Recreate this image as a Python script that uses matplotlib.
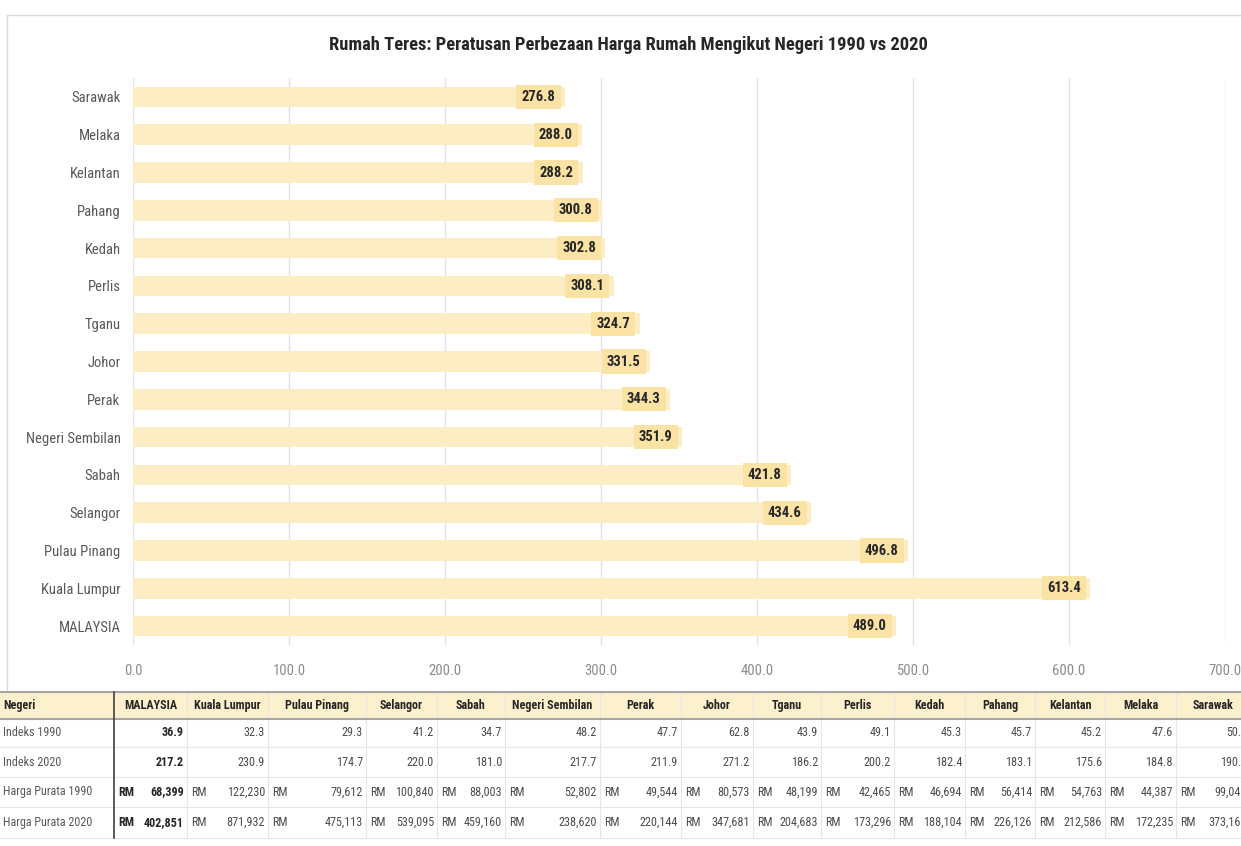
import matplotlib.pyplot as plt
from matplotlib import font_manager
from matplotlib.patches import Rectangle

installed = {f.name for f in font_manager.fontManager.ttflist}
fams = [n for n in ['Roboto Condensed', 'Liberation Sans Narrow', 'Roboto'] if n in installed]
plt.rcParams['font.family'] = fams + ['DejaVu Sans']

# data (bottom to top in the chart)
negeri = ['MALAYSIA', 'Kuala Lumpur', 'Pulau Pinang', 'Selangor', 'Sabah', 'Negeri Sembilan',
          'Perak', 'Johor', 'Tganu', 'Perlis', 'Kedah', 'Pahang', 'Kelantan', 'Melaka', 'Sarawak']
peratus = [489.0, 613.4, 496.8, 434.6, 421.8, 351.9, 344.3, 331.5, 324.7, 308.1, 302.8, 300.8,
           288.2, 288.0, 276.8]

indeks_1990 = [36.9, 32.3, 29.3, 41.2, 34.7, 48.2, 47.7, 62.8, 43.9, 49.1, 45.3, 45.7, 45.2, 47.6, 50.6]
indeks_2020 = [217.2, 230.9, 174.7, 220.0, 181.0, 217.7, 211.9, 271.2, 186.2, 200.2, 182.4, 183.1,
               175.6, 184.8, 190.4]
harga_1990 = [68399, 122230, 79612, 100840, 88003, 52802, 49544, 80573, 48199, 42465, 46694, 56414,
              54763, 44387, 99043]
harga_2020 = [402851, 871932, 475113, 539095, 459160, 238620, 220144, 347681, 204683, 173296, 188104,
              226126, 212586, 172235, 373163]

W, H = 1241, 846
fig = plt.figure(figsize=(W / 100, H / 100), dpi=100)

# chart frame + table drawn in pixel coordinates
bg = fig.add_axes([0, 0, 1, 1])
bg.set_xlim(0, W)
bg.set_ylim(H, 0)
bg.axis('off')
bg.add_patch(Rectangle((7, 15), 1260, 677, fill=False, ec='#D9D9D9', lw=1))

# main bar chart
x0, x1, y0, y1 = 133, 1225, 78, 645
ax = fig.add_axes([x0 / W, 1 - y1 / H, (x1 - x0) / W, (y1 - y0) / H])
ypos = list(range(len(negeri)))
ax.barh(ypos, peratus, height=0.55, color='#FDEDC4', zorder=2)
for y, v in zip(ypos, peratus):
    ax.text(v - 6, y, f'{v:.1f}', ha='right', va='center', fontsize=10.5, fontweight='bold',
            color='#262626', zorder=3,
            bbox=dict(boxstyle='square,pad=0.35', fc='#FBE3A6', ec='none'))
ax.set_xlim(0, 700)
ax.set_ylim(-0.5, len(negeri) - 0.5)
ax.set_yticks(ypos)
ax.set_yticklabels(negeri, fontsize=10.5, color='#595959')
ax.set_xticks(range(0, 701, 100))
ax.set_xticklabels([f'{t:.1f}' for t in range(0, 701, 100)], fontsize=10.5, color='#8C8C8C')
ax.tick_params(length=0, pad=14)
ax.tick_params(axis='y', pad=9)
ax.grid(axis='x', color='#E3E3E3', lw=1, zorder=0)
for s in ax.spines.values():
    s.set_visible(False)
ax.patch.set_alpha(0)
fig.text(628 / W, 1 - 45 / H, 'Rumah Teres: Peratusan Perbezaan Harga Rumah Mengikut Negeri 1990 vs 2020',
         ha='center', va='center', fontsize=13.3, fontweight='bold', color='#262626')

# table
col_edges = [0, 114, 187, 268, 366, 437, 505, 600, 681, 753, 821, 894, 965, 1035, 1105, 1176, 1250]
row_edges = [692, 719, 747, 777, 807, 838]
row_names = ['Indeks 1990', 'Indeks 2020', 'Harga Purata 1990', 'Harga Purata 2020']

bg.add_patch(Rectangle((0, row_edges[0]), W, row_edges[1] - row_edges[0], fc='#FDF0CC', ec='none'))
for xe in col_edges[2:-1]:
    bg.plot([xe, xe], [row_edges[0], row_edges[-1]], color='#E6E6E6', lw=0.8)
for ye in row_edges[2:]:
    bg.plot([0, W], [ye, ye], color='#E6E6E6', lw=0.8)
bg.plot([0, W], [row_edges[0], row_edges[0]], color='#A6A6A6', lw=1.5)
bg.plot([0, W], [row_edges[1], row_edges[1]], color='#A6A6A6', lw=1.5)
bg.plot([col_edges[1], col_edges[1]], [row_edges[0], row_edges[-1]], color='#404040', lw=1.2)

fs = 8.7
yc = [(row_edges[i] + row_edges[i + 1]) / 2 for i in range(len(row_edges) - 1)]
bg.text(3, yc[0], 'Negeri', ha='left', va='center', fontsize=fs, fontweight='bold', color='#262626')
for i, nm in enumerate(row_names):
    bg.text(3, yc[i + 1], nm, ha='left', va='center', fontsize=fs, color='#595959')

for j, nm in enumerate(negeri):
    left, right = col_edges[j + 1], col_edges[j + 2]
    w = 'bold' if j == 0 else 'normal'
    c = '#262626' if j == 0 else '#4D4D4D'
    bg.text((left + right) / 2, yc[0], nm, ha='center', va='center', fontsize=fs,
            fontweight='bold', color='#262626')
    vals = [f'{indeks_1990[j]:.1f}', f'{indeks_2020[j]:.1f}',
            f'{harga_1990[j]:,}', f'{harga_2020[j]:,}']
    for i, v in enumerate(vals):
        bg.text(right - 3, yc[i + 1], v, ha='right', va='center', fontsize=fs, fontweight=w, color=c)
        if i >= 2:
            bg.text(left + 4, yc[i + 1], 'RM', ha='left', va='center', fontsize=fs, fontweight=w, color=c)

fig.savefig('out.png', dpi=100)
